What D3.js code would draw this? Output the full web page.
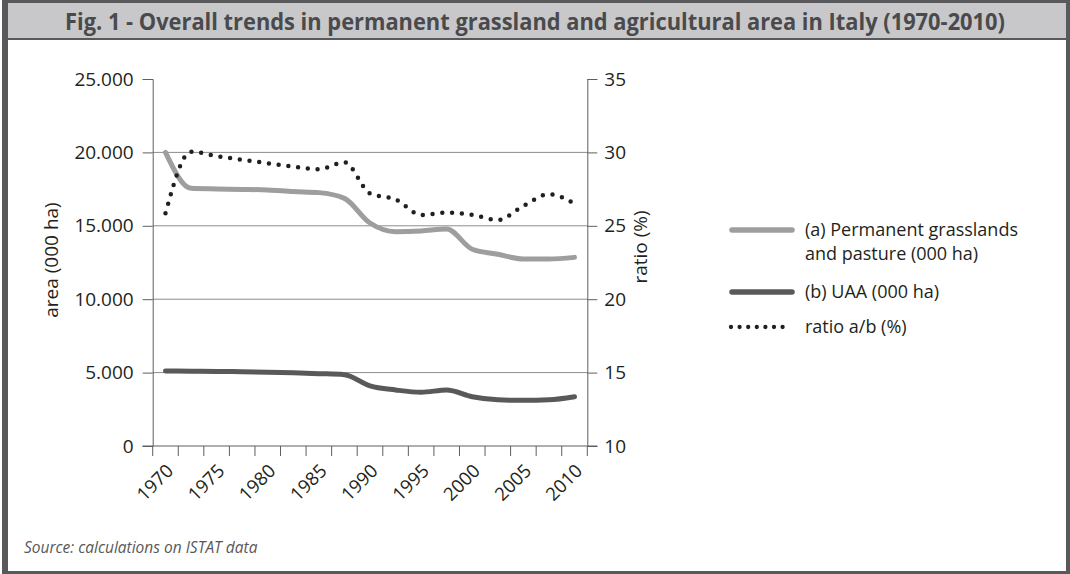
<!DOCTYPE html>
<html>
<head>
<meta charset="utf-8">
<script src="https://cdn.jsdelivr.net/npm/d3@7"></script>
<style>
  body { margin: 0; background: #ffffff; }
  svg { display: block; font-family: "Open Sans", "Noto Sans", sans-serif; }
</style>
</head>
<body>
<svg id="chart" width="1070" height="574"></svg>
<script>
// Survey years along the category axis (labels shown every 5 years)
const years = ["1970","1972","1975","1977","1980","1982","1985","1987","1990",
               "1992","1995","1997","2000","2002","2005","2007","2010"];
const xTickLabels = ["1970","1975","1980","1985","1990","1995","2000","2005","2010"];

// (a) Permanent grasslands and pasture (000 ha)
const grassland = [20000, 17550, 17510, 17480, 17440, 17330, 17260, 16870, 15190,
                   14600, 14650, 14780, 13400, 13060, 12740, 12740, 12850];
// (b) UAA (000 ha)
const uaa = [5110, 5100, 5080, 5060, 5030, 4985, 4930, 4860, 4090,
             3815, 3660, 3815, 3360, 3150, 3110, 3150, 3360];
// ratio a/b (%)
const ratio = [25.85, 30.05, 29.75, 29.5, 29.26, 29.03, 28.85, 29.33, 27.2,
               26.8, 25.74, 25.9, 25.74, 25.4, 26.35, 27.15, 26.5];

const leftTicks = [0, 5000, 10000, 15000, 20000, 25000];
const rightTicks = [10, 15, 20, 25, 30, 35];

const legendItems = [
  { lines: ["(a) Permanent grasslands", "and pasture (000 ha)"], kind: "grass" },
  { lines: ["(b) UAA (000 ha)"], kind: "uaa" },
  { lines: ["ratio a/b (%)"], kind: "ratio" }
];

const colors = { grass: "#9e9ea0", uaa: "#59595b", ratio: "#231f20",
                 frame: "#59595b", titleBar: "#c8c8ca", text: "#231f20",
                 grid: "#8c8c8c", axis: "#5f5f5f" };

const svg = d3.select("#chart");

// Frame and title bar
svg.append("rect").attr("x", 2).attr("y", 0).attr("width", 1068).attr("height", 574)
  .attr("fill", colors.frame);
svg.append("rect").attr("x", 8).attr("y", 3).attr("width", 1058).attr("height", 35)
  .attr("fill", colors.titleBar);
svg.append("rect").attr("x", 8).attr("y", 40).attr("width", 1058).attr("height", 531)
  .attr("fill", "#ffffff");

svg.append("text")
  .attr("x", 535).attr("y", 30)
  .attr("text-anchor", "middle")
  .attr("font-size", 23).attr("font-weight", "bold")
  .attr("fill", "#4a4a4c")
  .attr("textLength", 940).attr("lengthAdjust", "spacingAndGlyphs")
  .text("Fig. 1 - Overall trends in  permanent grassland and agricultural area in Italy (1970-2010)");

// Plot area
const plot = { left: 152.7, right: 587.3, top: 79, bottom: 446 };

const x = d3.scaleBand().domain(years).range([plot.left, plot.right]).padding(0);
const yL = d3.scaleLinear().domain([0, 25000]).range([plot.bottom, plot.top]);
const yR = d3.scaleLinear().domain([10, 35]).range([plot.bottom, plot.top]);
const cx = d => x(d) + x.bandwidth() / 2;

// Horizontal gridlines
svg.append("g").selectAll("line")
  .data(leftTicks.filter(v => v > 0 && v < 25000))
  .join("line")
  .attr("x1", plot.left).attr("x2", plot.right)
  .attr("y1", d => yL(d)).attr("y2", d => yL(d))
  .attr("stroke", colors.grid).attr("stroke-width", 1);

const fmtArea = d => d === 0 ? "0" : d3.format(",")(d).replace(/,/g, ".");

// Left axis
const gL = svg.append("g").attr("transform", `translate(${plot.left},0)`)
  .call(d3.axisLeft(yL).tickValues(leftTicks).tickFormat(fmtArea)
        .tickSize(10).tickPadding(9));
// Right axis
const gR = svg.append("g").attr("transform", `translate(${plot.right},0)`)
  .call(d3.axisRight(yR).tickValues(rightTicks).tickSize(10).tickPadding(7));

[gL, gR].forEach(g => {
  g.select(".domain").attr("stroke", colors.axis);
  g.selectAll(".tick line").attr("stroke", colors.axis);
  g.selectAll(".tick text").attr("font-size", 19).attr("fill", colors.text)
    .attr("font-family", "'Open Sans', sans-serif");
});

// Bottom axis: tick marks on band boundaries, labels every other category
const gB = svg.append("g").attr("transform", `translate(0,${plot.bottom})`);
gB.append("line").attr("x1", plot.left - 10).attr("x2", plot.right + 10)
  .attr("y1", 0).attr("y2", 0).attr("stroke", colors.axis);
const boundaries = years.map(d => x(d)).concat([x(years[years.length - 1]) + x.bandwidth()]);
gB.selectAll("line.tk").data(boundaries).join("line").attr("class", "tk")
  .attr("x1", d => d).attr("x2", d => d).attr("y1", 0).attr("y2", 10)
  .attr("stroke", colors.axis);
gB.selectAll("text").data(xTickLabels).join("text")
  .attr("transform", d => `translate(${cx(d) + 9},${26}) rotate(-45)`)
  .attr("text-anchor", "end")
  .attr("font-size", 18.5).attr("fill", colors.text)
  .text(d => d);

// Axis titles
svg.append("text")
  .attr("transform", `translate(58,260) rotate(-90)`)
  .attr("text-anchor", "middle").attr("font-size", 19).attr("fill", colors.text)
  .text("area (000 ha)");
svg.append("text")
  .attr("transform", `translate(647,247) rotate(-90)`)
  .attr("text-anchor", "middle").attr("font-size", 19).attr("fill", colors.text)
  .text("ratio (%)");

// Series lines
const lineL = d3.line().x((d, i) => cx(years[i])).y(d => yL(d)).curve(d3.curveMonotoneX);
const lineR = d3.line().x((d, i) => cx(years[i])).y(d => yR(d)).curve(d3.curveMonotoneX);

svg.append("path").datum(uaa).attr("d", lineL)
  .attr("fill", "none").attr("stroke", colors.uaa).attr("stroke-width", 5)
  .attr("stroke-linecap", "round").attr("stroke-linejoin", "round");
svg.append("path").datum(grassland).attr("d", lineL)
  .attr("fill", "none").attr("stroke", colors.grass).attr("stroke-width", 5)
  .attr("stroke-linecap", "round").attr("stroke-linejoin", "round");
svg.append("path").datum(ratio).attr("d", lineR)
  .attr("fill", "none").attr("stroke", colors.ratio).attr("stroke-width", 4.5)
  .attr("stroke-linecap", "round").attr("stroke-dasharray", "0,9.8");

// Legend
const legendRows = [230, 292, 327];
const lg = svg.append("g");
legendItems.forEach((item, i) => {
  const y0 = legendRows[i];
  const ln = lg.append("line")
    .attr("x1", 732).attr("x2", 792).attr("y1", y0).attr("y2", y0)
    .attr("stroke-linecap", "round");
  if (item.kind === "ratio") {
    ln.attr("x1", 731).attr("x2", 791).attr("stroke", colors.ratio)
      .attr("stroke-width", 4.3).attr("stroke-dasharray", "0,8.6");
  } else {
    ln.attr("stroke", colors[item.kind]).attr("stroke-width", 5.5);
  }
  item.lines.forEach((t, j) => {
    lg.append("text").attr("x", 805).attr("y", y0 + 6 + j * 24)
      .attr("font-size", 18).attr("fill", colors.text).text(t);
  });
});

// Source note
svg.append("text").attr("x", 24).attr("y", 553)
  .attr("font-size", 15.5).attr("font-style", "italic").attr("fill", "#58585a")
  .text("Source: calculations on ISTAT data");
</script>
</body>
</html>
